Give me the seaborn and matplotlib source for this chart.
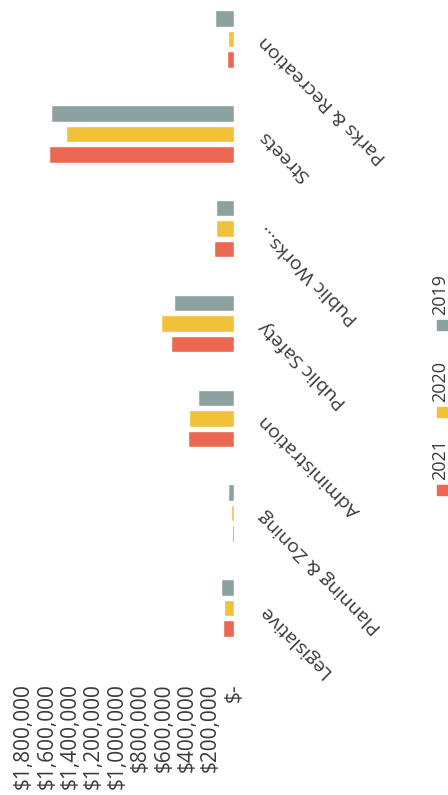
import numpy as np
import pandas as pd
import matplotlib.pyplot as plt
import matplotlib.patches as mpatches
from matplotlib.ticker import FuncFormatter
import seaborn as sns

# data (spending by department, three years)
departments = ['Parks & Recreation', 'Streets', 'Public Works...', 'Public Safety',
               'Administration', 'Planning & Zoning', 'Legislative']
years = ['2019', '2020', '2021']
spend_2021 = [62000, 1580000, 168000, 541000, 390000, 14000, 95000]
spend_2020 = [55000, 1438000, 154000, 627000, 382000, 24000, 85000]
spend_2019 = [160000, 1567000, 154000, 510000, 305000, 55000, 108000]
value_ticks = [0, 200000, 400000, 600000, 800000, 1000000, 1200000, 1400000, 1600000, 1800000]

colors = {'2021': '#EC6852', '2020': '#F1C139', '2019': '#8CA2A1'}

df = pd.DataFrame({
    'Department': departments * 3,
    'Year': ['2021'] * 7 + ['2020'] * 7 + ['2019'] * 7,
    'Spending': spend_2021 + spend_2020 + spend_2019,
})

sns.set_style('white')
plt.rcParams['font.family'] = ['Open Sans', 'DejaVu Sans']

fig = plt.figure(figsize=(4.48, 7.95), dpi=100)
W, H = 448, 795
# the whole chart is turned a quarter turn, so bars run right-to-left
ax = fig.add_axes([23.4 / W, 1 - 655.4 / H, 210.6 / W, 663.8 / H])

sns.barplot(
    data=df, y='Department', x='Spending', hue='Year',
    order=departments, hue_order=years,
    palette=colors, saturation=1, width=0.65, gap=0.2,
    orient='h', legend=False, ax=ax
)

ax.set_xlim(1800000, 0)
ax.set_ylim(6.5, -0.5)
ax.set_xlabel('')
ax.set_ylabel('')
for s in ax.spines.values():
    s.set_visible(False)

# value axis
ax.set_xticks(value_ticks)
ax.xaxis.set_major_formatter(FuncFormatter(lambda v, p: '\\$-' if v == 0 else '\\${:,.0f}'.format(v)))
ax.tick_params(axis='x', length=0, pad=20, labelsize=15, labelcolor='#3a3a3a')
for lbl in ax.get_xticklabels():
    lbl.set_rotation(90)

# category axis
ax.yaxis.tick_right()
ax.tick_params(axis='y', length=0, pad=20, labelsize=14, labelcolor='#3a3a3a')
for lbl in ax.get_yticklabels():
    lbl.set_rotation(135)
    lbl.set_rotation_mode('anchor')
    lbl.set_ha('right')
    lbl.set_va('center')

# legend (turned with the chart)
legend_pos = {'2021': 490, '2020': 412, '2019': 325}
for yr in ['2021', '2020', '2019']:
    ym = legend_pos[yr]
    fig.patches.append(mpatches.Rectangle(
        ((442 - 5) / W, 1 - (ym + 5) / H), 10 / W, 10 / H,
        color=colors[yr], transform=fig.transFigure, figure=fig))
    fig.text(440 / W, 1 - (ym - 10) / H, yr, rotation=90, ha='center', va='bottom',
             fontsize=13, color='#3a3a3a')

fig.savefig('out.png', dpi=100)
